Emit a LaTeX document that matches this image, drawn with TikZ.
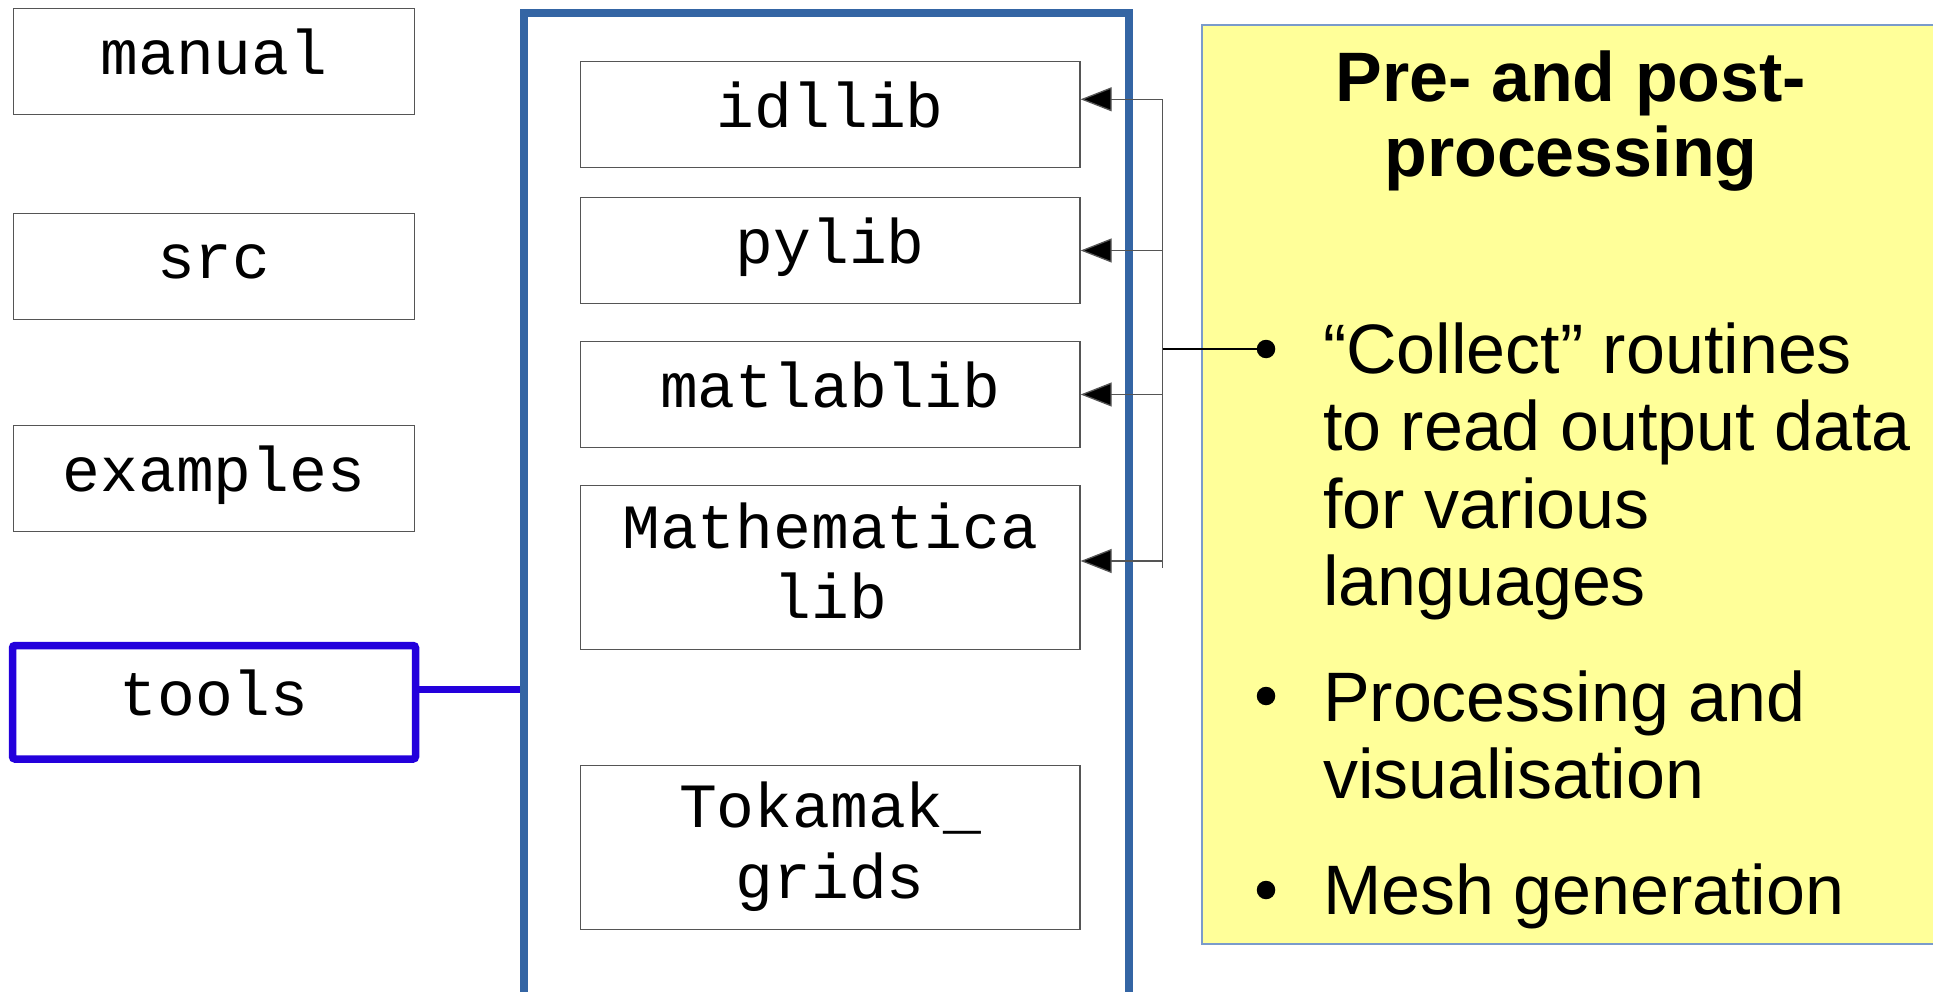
\documentclass[tikz,border=0pt]{standalone}
\usepackage{fontspec}
\setmainfont{Liberation Sans}
\newfontfamily\dirfont{Liberation Mono}
\usetikzlibrary{arrows.meta}

\definecolor{frameblue}{HTML}{3465A4}
\definecolor{toolsblue}{HTML}{2300DC}
\definecolor{noteyellow}{HTML}{FFFF99}
\definecolor{noteedge}{HTML}{7A9BCB}
\definecolor{boxedge}{HTML}{555555}

% struts of fixed height/depth so every directory label sits at the same place
\newcommand\onestrut{\rule[-0.31em]{0pt}{1em}}
\newcommand\dirstrut{\rule[-0.25em]{0pt}{1em}}

\begin{document}
\begin{tikzpicture}[x=1pt,y=-1pt,
  dirbox/.style={draw=boxedge, line width=1.3pt, inner sep=0pt, align=center,
    font=\dirfont\fontsize{63}{70.6}\selectfont},
  topdir/.style={dirbox, minimum width=400.6pt, minimum height=106pt},
  libdir/.style={dirbox, minimum width=499.4pt, minimum height=106pt},
  talllib/.style={libdir, minimum height=164pt},
  notetext/.style={inner sep=0pt, font=\fontsize{70}{77.3}\selectfont},
  bulletdot/.style={circle, fill=black, inner sep=0pt, minimum size=18.5pt},
  feed/.style={draw=boxedge, line width=1.3pt},
  feedarrow/.style={feed, -{Triangle[length=31pt,width=24pt,fill=black]}}
]
\useasboundingbox (0,0) rectangle (1933,992);

% note with the description of the tools
\node[draw=noteedge, line width=1.6pt, fill=noteyellow, minimum width=760pt,
      minimum height=919pt, inner sep=0pt, anchor=north west]
  (note) at (1201,24) {};

% frame holding the contents of tools/
\node[draw=frameblue, line width=8pt, minimum width=605pt, minimum height=1001pt,
      inner sep=0pt, anchor=north west] (frame) at (520,9) {};

% top-level directories
\node[topdir] (manual)   at (213.9,61.65)  {\onestrut manual};
\node[topdir] (src)      at (213.9,266.3)  {\onestrut src};
\node[topdir] (examples) at (213.9,478.3)  {\onestrut examples};
\node[topdir, draw=toolsblue, line width=7.5pt, rounded corners=2.5pt,
      minimum width=403pt, minimum height=113.5pt]
  (tools) at (214,702.25) {\onestrut tools};

\coordinate (toolsjoin) at (520,689.7);
\draw[toolsblue, line width=7.3pt] (tools.east |- toolsjoin) -- (toolsjoin);

% subdirectories of tools/
\node[libdir]  (idllib)  at (830.3,114.65) {\onestrut idllib};
\node[libdir]  (pylib)   at (830.3,250.25) {\onestrut pylib};
\node[libdir]  (matlab)  at (830.3,394.5)  {\onestrut matlablib};
\node[talllib] (mathlib) at (830.3,567.7)  {\dirstrut Mathematica\\\dirstrut lib};
\node[talllib] (grids)   at (830.3,847.5)  {\dirstrut Tokamak\_\\\dirstrut grids};

% title of the note
\node[font=\bfseries\fontsize{70}{75}\selectfont, inner sep=0pt, anchor=base]
  (title) at (1571,101.7)
  {\vtop{\baselineskip=75pt\halign{\hfil#\hfil\cr Pre- and post-\cr processing\cr}}};

% bullet points
\node[bulletdot] (b1) at (1266,349) {};
\node[bulletdot] (b2) at (1266,696) {};
\node[bulletdot] (b3) at (1266,890) {};

\node[notetext, anchor=base west] (t1) at (1322.8,373.5)
  {\vtop{\baselineskip=77.3pt\hbox{“Collect” routines}\hbox{to read output data}\hbox{for various}\hbox{languages}}};
\node[notetext, anchor=base west] (t2) at (1322.8,721)
  {\vtop{\baselineskip=77.3pt\hbox{Processing and}\hbox{visualisation}}};
\node[notetext, anchor=base west] (t3) at (1322.8,914.7) {Mesh generation};

% bus feeding the language libraries from the collect routines
\coordinate (bustop) at (1162.7,99.3);
\coordinate (busbot) at (1162.7,568);
\coordinate (busmid) at (1162.7,349);
\draw[feed] (bustop) -- (busbot);
\draw[line width=1.3pt] (busmid) -- (b1);

\coordinate (a1) at (1162.7,99.3);
\coordinate (a2) at (1162.7,250.5);
\coordinate (a3) at (1162.7,394.5);
\coordinate (a4) at (1162.7,561);
\draw[feedarrow] (a1) -- (a1 -| idllib.east);
\draw[feedarrow] (a2) -- (a2 -| pylib.east);
\draw[feedarrow] (a3) -- (a3 -| matlab.east);
\draw[feedarrow] (a4) -- (a4 -| mathlib.east);
\end{tikzpicture}
\end{document}
